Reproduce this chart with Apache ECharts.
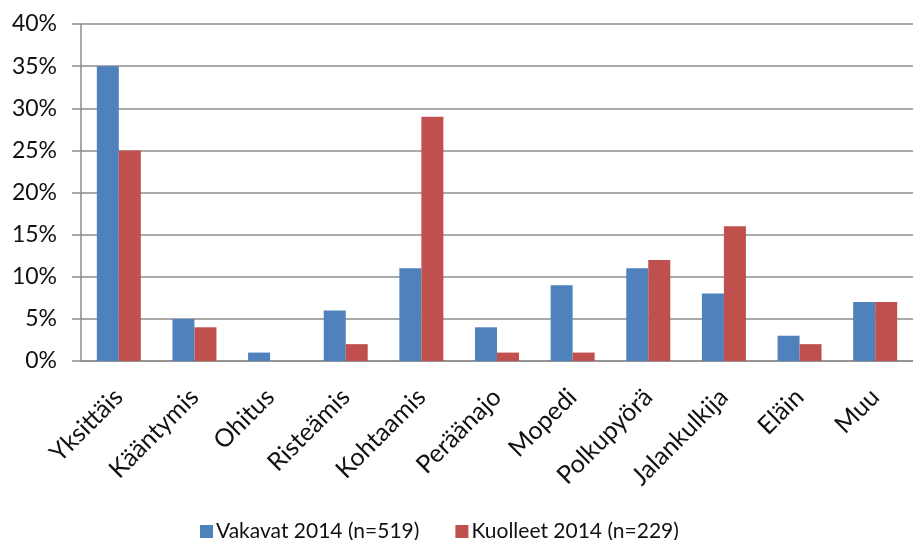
<!DOCTYPE html>
<html>
<head>
<meta charset="utf-8">
<script src="https://cdn.jsdelivr.net/npm/echarts@6/dist/echarts.min.js"></script>
<style>
  html, body { margin: 0; padding: 0; background: #fff; }
  #chart { width: 913px; height: 540px; }
</style>
</head>
<body>
<div id="chart"></div>
<script>
const categories = ['Yksittäis', 'Kääntymis', 'Ohitus', 'Risteämis', 'Kohtaamis', 'Peräänajo', 'Mopedi', 'Polkupyörä', 'Jalankulkija', 'Eläin', 'Muu'];
const vakavat = [35, 5, 1, 6, 11, 4, 9, 11, 8, 3, 7];
const kuolleet = [25, 4, 0, 2, 29, 1, 1, 12, 16, 2, 7];
const seriesNames = ['Vakavat 2014 (n=519)', 'Kuolleet 2014 (n=229)'];

const fontFamily = 'Lato, "Open Sans", sans-serif';
const gridColor = '#8c8c8c';

const chart = echarts.init(document.getElementById('chart'));

chart.setOption({
    animation: false,
    textStyle: { fontFamily },
    grid: { left: 81, top: 24, right: -11, bottom: 179 },
    legend: {
        bottom: -7,
        left: 195,
        itemWidth: 13,
        itemHeight: 13,
        itemGap: 36,
        icon: 'rect',
        textStyle: { fontSize: 21, color: '#111', fontFamily, padding: [0, 0, 0, -2] }
    },
    xAxis: {
        type: 'category',
        data: categories,
        axisLine: { lineStyle: { color: gridColor, width: 1.5 } },
        axisTick: { length: 8, lineStyle: { color: gridColor, width: 1.5 } },
        axisLabel: { rotate: 45, fontSize: 25, color: '#111', margin: 32, interval: 0 }
    },
    yAxis: {
        type: 'value',
        min: 0,
        max: 40,
        interval: 5,
        axisLine: { show: true, lineStyle: { color: gridColor, width: 1.5 } },
        axisTick: { show: true, length: 9, lineStyle: { color: gridColor, width: 1.5 } },
        axisLabel: { formatter: '{value}%', fontSize: 23, color: '#111', margin: 24 },
        splitLine: { lineStyle: { color: gridColor, width: 1.5 } }
    },
    series: [
        {
            name: seriesNames[0],
            type: 'bar',
            data: vakavat,
            barWidth: 22,
            barGap: '0%',
            itemStyle: { color: '#4F81BD' }
        },
        {
            name: seriesNames[1],
            type: 'bar',
            data: kuolleet,
            barWidth: 22,
            barGap: '0%',
            itemStyle: { color: '#C0504D' }
        }
    ]
});
</script>
</body>
</html>
